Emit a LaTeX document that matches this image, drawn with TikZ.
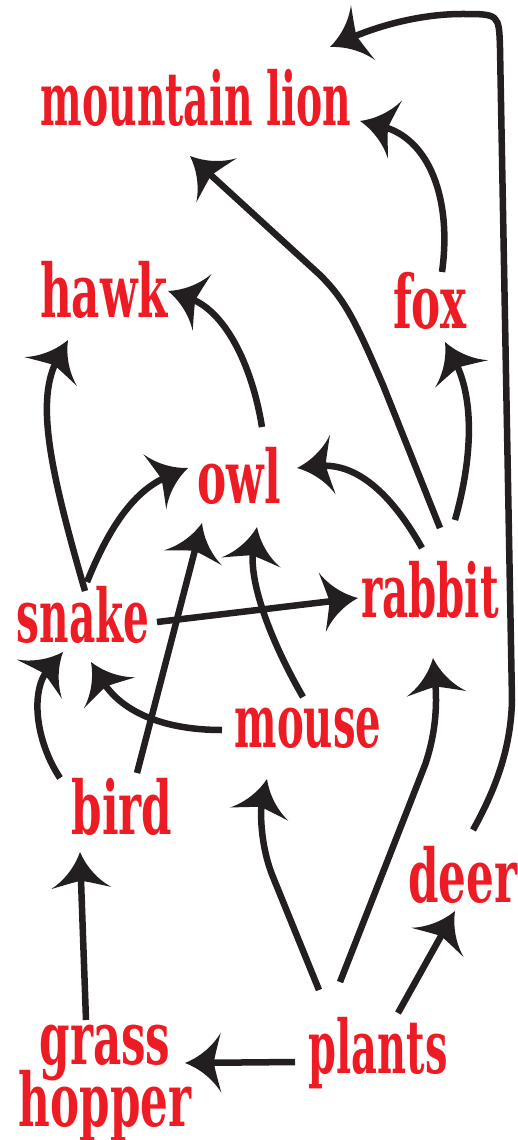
\documentclass[tikz,border=0pt]{standalone}
\usepackage{fontspec}
\newfontfamily\lblfont{DejaVu Serif}[FakeStretch=0.59]
\usetikzlibrary{arrows.meta}
\pgfdeclarearrow{
  name = Swoosh,
  parameters = {\the\pgfarrowlength,\the\pgfarrowwidth},
  setup code = {
    \pgfarrowssettipend{0pt}
    \pgfarrowssetlineend{-0.6\pgfarrowlength}
    \pgfarrowssetbackend{-\pgfarrowlength}
    \pgfarrowssavethe\pgfarrowlength
    \pgfarrowssavethe\pgfarrowwidth
  },
  drawing code = {
    \pgfpathmoveto{\pgfqpoint{0pt}{0pt}}
    \pgfpathcurveto{\pgfpoint{-0.35\pgfarrowlength}{0.08\pgfarrowwidth}}{\pgfpoint{-0.75\pgfarrowlength}{0.25\pgfarrowwidth}}{\pgfpoint{-\pgfarrowlength}{0.5\pgfarrowwidth}}
    \pgfpathcurveto{\pgfpoint{-0.88\pgfarrowlength}{0.22\pgfarrowwidth}}{\pgfpoint{-0.82\pgfarrowlength}{0.08\pgfarrowwidth}}{\pgfpoint{-0.8\pgfarrowlength}{0pt}}
    \pgfpathcurveto{\pgfpoint{-0.82\pgfarrowlength}{-0.08\pgfarrowwidth}}{\pgfpoint{-0.88\pgfarrowlength}{-0.22\pgfarrowwidth}}{\pgfpoint{-\pgfarrowlength}{-0.5\pgfarrowwidth}}
    \pgfpathcurveto{\pgfpoint{-0.75\pgfarrowlength}{-0.25\pgfarrowwidth}}{\pgfpoint{-0.35\pgfarrowlength}{-0.08\pgfarrowwidth}}{\pgfqpoint{0pt}{0pt}}
    \pgfpathclose
    \pgfusepathqfill
  },
  defaults = {length = 36pt, width = 60pt}
}
\definecolor{lblred}{HTML}{ED1C24}
\definecolor{ink}{HTML}{231F20}
\tikzset{
  lbl/.style={text=lblred, font={\lblfont\bfseries\fontsize{74}{62}\selectfont\lineskiplimit=-100pt}, inner sep=0pt, anchor=base},
  link/.style={draw=ink, line width=6.5pt, -{Swoosh[length=36pt,width=60pt]}}
}
\begin{document}
\begin{tikzpicture}[x=1pt,y=-1pt]
\useasboundingbox (0,0) rectangle (517,1140);
\node[lbl] (ml) at (196,125) {\scalebox{0.9}[1]{mountain lion}};
\node[lbl] (hawk) at (104,317) {hawk};
\node[lbl] (fox) at (430,328) {fox};
\node[lbl] (owl) at (239,503) {owl};
\node[lbl] (snake) at (83,642) {\scalebox{0.93}[1]{snake}};
\node[lbl] (rabbit) at (430,617) {\scalebox{0.925}[1]{rabbit}};
\node[lbl] (mouse) at (308,747) {\scalebox{0.92}[1]{mouse}};
\node[lbl] (bird) at (122,834) {bird};
\node[lbl] (deer) at (463,902) {deer};
\node[lbl, align=center] (gh) at (105,1126) {grass\\hopper};
\node[lbl] (plants) at (378,1073) {\scalebox{0.915}[1]{plants}};

% deer -> mountain lion
\draw[link] ([shift={(10,-72)}]deer.base) .. controls (498,785) and (511,745) .. (512,700)
  -- (500,48) .. controls (499,14) .. (462,14) .. controls (420,14) and (378,26) .. ([shift={(134,-78)}]ml.base);
% fox -> mountain lion
\draw[link] ([shift={(12,-56)}]fox.base) .. controls (452,200) and (430,138) .. ([shift={(164,-4)}]ml.base);
% rabbit -> mountain lion
\draw[link] ([shift={(10,-89)}]rabbit.base) -- (383,385) .. controls (355,320) and (345,300) .. (320,275) -- ([shift={(-6,31)}]ml.base);
% owl -> hawk
\draw[link] ([shift={(23,-76)}]owl.base) .. controls (252,365) and (225,310) .. ([shift={(64,-26)}]hawk.base);
% snake -> hawk
\draw[link] ([shift={(2,-51)}]snake.base) .. controls (50,470) and (35,400) .. ([shift={(-36,23)}]hawk.base);
% snake -> owl
\draw[link] ([shift={(4,-60)}]snake.base) .. controls (110,525) and (135,490) .. ([shift={(-51,-35)}]owl.base);
% rabbit -> owl
\draw[link] ([shift={(-8,-69)}]rabbit.base) .. controls (395,500) and (360,462) .. ([shift={(58,-35)}]owl.base);
% bird -> owl
\draw[link] ([shift={(15,-61)}]bird.base) -- ([shift={(-37,20)}]owl.base);
% mouse -> owl
\draw[link] ([shift={(-5,-50)}]mouse.base) .. controls (270,640) and (248,580) .. ([shift={(18,24)}]owl.base);
% snake -> rabbit
\draw[link] ([shift={(74,-20)}]snake.base) -- ([shift={(-72,-19)}]rabbit.base);
% mouse -> snake
\draw[link] ([shift={(-86,-17)}]mouse.base) .. controls (160,730) and (120,710) .. ([shift={(8,20)}]snake.base);
% bird -> snake
\draw[link] ([shift={(-62,-56)}]bird.base) .. controls (35,740) and (30,690) .. ([shift={(-20,10)}]snake.base);
% grasshopper -> bird
\draw[link] ([shift={(-19,-106)}]gh.base) -- ([shift={(-42,18)}]bird.base);
% plants -> grasshopper
\draw[link] ([shift={(-83,-11)}]plants.base) -- ([shift={(80,-63)}]gh.base);
% plants -> mouse
\draw[link] ([shift={(-59,-83)}]plants.base) -- (273,877) .. controls (260,845) and (260,810) .. ([shift={(-41,32)}]mouse.base);
% plants -> rabbit
\draw[link] ([shift={(-38,-91)}]plants.base) -- (425,765) .. controls (437,730) and (437,700) .. ([shift={(3,41)}]rabbit.base);
% plants -> deer
\draw[link] ([shift={(20,-60)}]plants.base) -- ([shift={(-8,9)}]deer.base);
% rabbit -> fox
\draw[link] ([shift={(25,-97)}]rabbit.base) .. controls (472,460) and (475,400) .. ([shift={(15,14)}]fox.base);
\end{tikzpicture}
\end{document}
